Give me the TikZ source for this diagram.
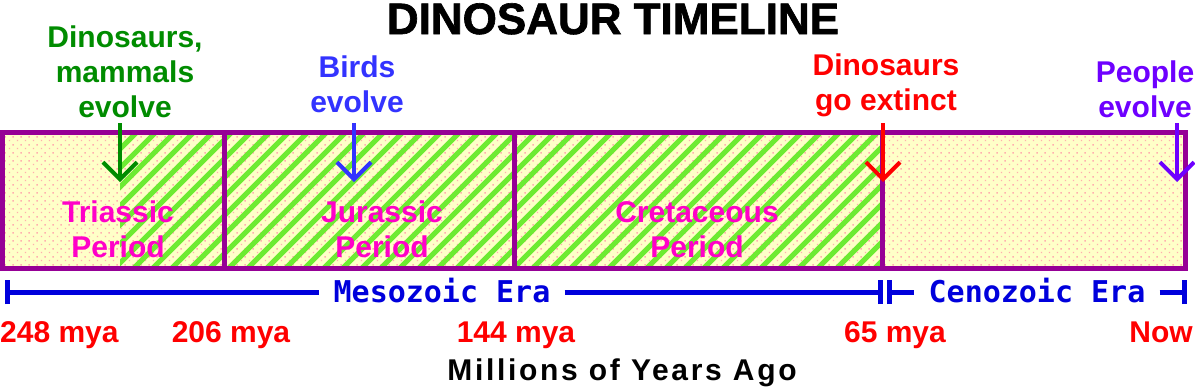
\documentclass[tikz,border=0pt]{standalone}
\usepackage{fontspec}
\setmainfont{Liberation Sans}
\newfontfamily\erafont{DejaVu Sans Mono}
\newfontfamily\titlefont{Liberation Sans Bold}[FakeBold=1.5]
\usetikzlibrary{arrows.meta,patterns}
\definecolor{borderpurple}{RGB}{150,0,150}
\definecolor{paleyellow}{RGB}{255,255,200}
\definecolor{dotpink}{RGB}{255,175,175}
\definecolor{hatchgreen}{RGB}{110,235,50}
\definecolor{txtgreen}{RGB}{0,140,0}
\definecolor{txtblue}{RGB}{51,51,255}
\definecolor{txtred}{RGB}{255,0,0}
\definecolor{txtviolet}{RGB}{110,0,255}
\definecolor{periodpink}{RGB}{255,0,200}
\definecolor{erablue}{RGB}{0,0,220}
\pgfdeclarepatternformonly{pinkdots}{\pgfpointorigin}{\pgfpoint{8pt}{8pt}}{\pgfpoint{8pt}{8pt}}{%
  \pgfpathrectangle{\pgfpoint{1pt}{1pt}}{\pgfpoint{1.5pt}{1.5pt}}%
  \pgfpathrectangle{\pgfpoint{5pt}{5pt}}{\pgfpoint{1.5pt}{1.5pt}}%
  \pgfusepath{fill}}
\tikzset{
  lbl/.style={font=\bfseries\fontsize{30}{35}\selectfont, align=center, inner sep=0pt, anchor=base},
  periodlbl/.style={lbl, text=periodpink},
  myalbl/.style={font=\bfseries\fontsize{30}{35}\selectfont, inner sep=0pt, text=txtred},
  eralbl/.style={font=\erafont\bfseries\fontsize{30}{35}\selectfont, inner ysep=0pt, inner xsep=14pt, anchor=base, text=erablue},
  eraline/.style={draw=erablue, line width=5pt},
  evarrow/.style={line width=4pt, -{Straight Barb[length=17pt, width=34pt]}},
  hatch/.style={draw=hatchgreen, line width=5pt},
  frame/.style={draw=borderpurple, line width=5pt},
  divider/.style={draw=borderpurple, line width=4.5pt},
}
\begin{document}
\begin{tikzpicture}[x=1pt,y=-1pt]
\useasboundingbox (0,0) rectangle (1195,389);
\fill[white] (0,0) rectangle (1195,389);
% title
\node[font=\titlefont\fontsize{44}{44}\selectfont, inner sep=0pt, anchor=base] (title) at (613,34) {DINOSAUR TIMELINE};
% box background
\fill[paleyellow] (2.5,132) rectangle (1185,268);
\fill[pattern=pinkdots, pattern color=dotpink] (2.5,132) rectangle (1185,268);
\begin{scope}
  \clip (120,132) rectangle (883,268);
  \foreach \x in {-20,-1,...,900} \draw[hatch] (\x,270) -- ++(142,-142);
\end{scope}
\draw[divider] (224.5,132) -- (224.5,268);
\draw[divider] (514.5,132) -- (514.5,268);
\draw[divider] (882.5,132) -- (882.5,268);
\draw[frame] (2.5,132) rectangle (1185,268);
% period labels (anchor = baseline of last line)
\node[periodlbl] (tri) at (118,257) {Triassic\\Period};
\node[periodlbl] (jur) at (382,257) {Jurassic\\Period};
\node[periodlbl] (cre) at (697,257) {Cretaceous\\Period};
% event labels
\node[lbl, text=txtgreen] (evdino) at (125,117) {Dinosaurs,\\mammals\\evolve};
\node[lbl, text=txtblue] (evbird) at (357,112) {Birds\\evolve};
\node[lbl, text=txtred] (evext) at (886,110) {Dinosaurs\\go extinct};
\node[lbl, text=txtviolet] (evpeople) at (1145,117) {People\\evolve};
% event arrows
\coordinate (gA) at (120,123); \coordinate (gB) at (120,182);
\coordinate (bA) at (354,123); \coordinate (bB) at (354,182);
\coordinate (rA) at (883,123); \coordinate (rB) at (883,182);
\coordinate (pA) at (1177,123); \coordinate (pB) at (1177,182);
\draw[evarrow, txtgreen] (gA) -- (gB);
\draw[evarrow, txtblue] (bA) -- (bB);
\draw[evarrow, txtred] (rA) -- (rB);
\draw[evarrow, txtviolet] (pA) -- (pB);
% eras
\node[eralbl] (meso) at (442,302) {Mesozoic Era};
\node[eralbl] (ceno) at (1037,302) {Cenozoic Era};
\coordinate (t0) at (7,292);
\coordinate (t1) at (880,292);
\coordinate (t2) at (889,292);
\coordinate (t3) at (1184,292);
\draw[eraline] (t0) -- (t0 -| meso.west);
\draw[eraline] (t1 -| meso.east) -- (t1);
\draw[eraline] (t2) -- (t2 -| ceno.west);
\draw[eraline] (t3 -| ceno.east) -- (t3);
\foreach \c in {t0,t1,t2,t3} \draw[erablue, line width=5pt] ([yshift=-12pt]\c) -- ([yshift=12pt]\c);
% dates
\node[myalbl, anchor=base west] (d248) at (0,342) {248 mya};
\node[myalbl, anchor=base] (d206) at (231,342) {206 mya};
\node[myalbl, anchor=base] (d144) at (516,342) {144 mya};
\node[myalbl, anchor=base] (d65) at (895,342) {65 mya};
\node[myalbl, anchor=base east] (dnow) at (1193,342) {Now};
% axis caption
\node[font=\bfseries\fontsize{30}{35}\selectfont\addfontfeature{LetterSpace=9}, inner sep=0pt, anchor=base] (axis) at (622,380) {Millions of Years Ago};
\end{tikzpicture}
\end{document}
